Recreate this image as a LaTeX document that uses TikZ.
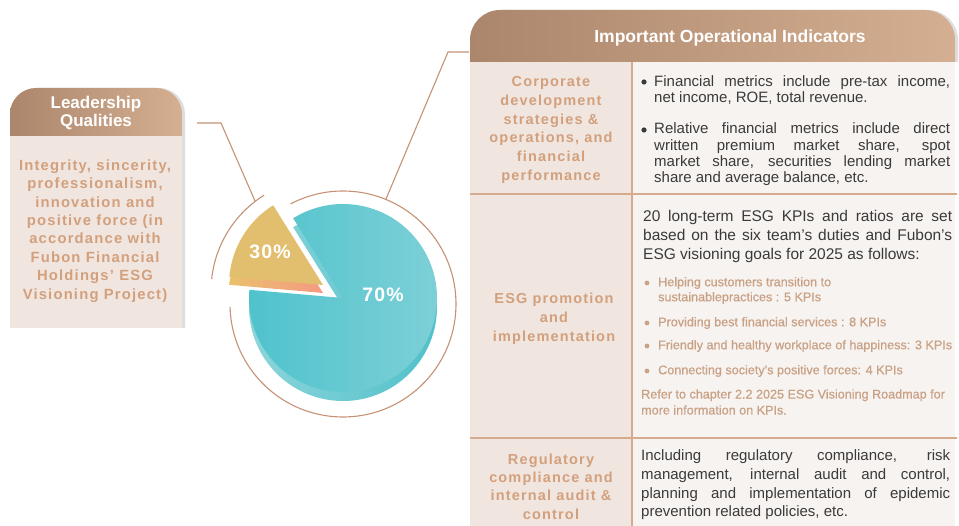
\documentclass[tikz,border=0pt]{standalone}
\usepackage{fontspec}
\setmainfont{Liberation Sans}
\newfontfamily\spacedfont[LetterSpace=8]{Liberation Sans}
\newfontfamily\pctfont[LetterSpace=6]{Liberation Sans}
\newfontfamily\medfont[FakeBold=0.6]{Liberation Sans}
\definecolor{hdrL}{HTML}{AC866C}
\definecolor{hdrR}{HTML}{D5AF91}
\definecolor{lbody}{HTML}{F0E6DF}
\definecolor{rbody}{HTML}{F7F3F0}
\definecolor{ruleC}{HTML}{D6AB8D}
\definecolor{connC}{HTML}{C49375}
\definecolor{headTxt}{HTML}{D3A07D}
\definecolor{darkTxt}{HTML}{3A3A3A}
\definecolor{brTxt}{HTML}{C9A185}
\definecolor{shadowC}{HTML}{DEDEDE}
\definecolor{tealL}{HTML}{4EC2CC}
\definecolor{tealR}{HTML}{7ED0D7}
\definecolor{sideL}{HTML}{8ED5DB}
\definecolor{sideR}{HTML}{4FC0CA}
\definecolor{yel}{HTML}{E2BF6F}
\definecolor{orL}{HTML}{EAC16C}
\definecolor{orR}{HTML}{F49A82}
\tikzset{
  conn/.style={draw=connC, line width=1.1pt},
  rulel/.style={draw=ruleC, line width=1.6pt},
  hdrtxt/.style={text=white, font=\bfseries\fontsize{17}{18}\selectfont, align=center, inner sep=0pt},
  bighdr/.style={text=white, font=\bfseries\fontsize{17.5}{19}\selectfont, inner sep=0pt},
  lefttxt/.style={text=headTxt, font=\spacedfont\bfseries\fontsize{14.5}{18.8}\selectfont, align=center, inner sep=0pt},
  bodytxt/.style={text=darkTxt, align=left, inner sep=0pt, anchor=west},
  kpitxt/.style={text=brTxt, align=left, inner sep=0pt, anchor=west, font=\medfont\fontsize{12.6}{15}\selectfont},
  dotd/.style={fill=darkTxt},
  dotb/.style={fill=brTxt},
  pct/.style={text=white, font=\pctfont\bfseries\fontsize{19.5}{20}\selectfont, inner sep=0pt}
}
\begin{document}
\begin{tikzpicture}[x=1pt,y=1pt]
\useasboundingbox (0,0) rectangle (959,-526);

% ---------- Leadership Qualities box ----------
\fill[shadowC] (13,-328) -- (13,-114) arc (180:90:26) -- (159,-88) arc (90:0:26) -- (185,-328) -- cycle;
\fill[lbody] (10,-136) rectangle (182,-328);
\shade[left color=hdrL, right color=hdrR] (10,-136) -- (10,-114) arc (180:90:26) -- (156,-88) arc (90:0:26) -- (182,-136) -- cycle;
\node[hdrtxt] (lqh) at (96,-113) {Leadership\\Qualities};
\node[lefttxt, font=\spacedfont\bfseries\fontsize{14.8}{18.4}\selectfont] (lqb) at (95,-231)
 {Integrity, sincerity,\\professionalism,\\innovation and\\positive force (in\\accordance with\\Fubon Financial\\Holdings’ ESG\\Visioning Project)};

% ---------- Table ----------
\fill[shadowC] (473,-62) -- (473,-40) arc (180:90:30) -- (928,-10) arc (90:0:30) -- (958,-62) -- cycle;
\fill[lbody] (470,-62) rectangle (632,-526);
\fill[rbody] (632,-62) rectangle (955,-526);
\shade[left color=hdrL, right color=hdrR] (470,-62) -- (470,-40) arc (180:90:30) -- (925,-10) arc (90:0:30) -- (955,-62) -- cycle;
\node[bighdr] (ioi) at (730,-38) {Important Operational Indicators};
\draw[rulel] (470,-194) -- (957,-194);
\draw[rulel] (470,-438) -- (957,-438);
\draw[rulel] (632,-62) -- (632,-526);

% row 1
\node[lefttxt] (r1l) at (551,-130) {Corporate\\development\\strategies \&\\operations, and\\financial\\performance};
\fill[dotd] (644,-82) circle (2.6);
\fill[dotd] (644,-130) circle (2.6);
\node[bodytxt, font=\fontsize{15}{16.5}\selectfont] (r1a) at (654,-90)
 {\makebox[296pt][s]{Financial metrics include pre-tax income,}\\net income, ROE, total revenue.};
\node[bodytxt, font=\fontsize{15}{16.4}\selectfont] (r1b) at (654,-154.5)
 {\makebox[296pt][s]{Relative financial metrics include direct}\\\makebox[296pt][s]{written premium market share, spot}\\\makebox[296pt][s]{market share, securities lending market}\\share and average balance, etc.};

% row 2
\node[lefttxt] (r2l) at (554,-319) {ESG promotion\\and\\implementation};
\node[bodytxt, font=\fontsize{15.5}{19}\selectfont] (r2a) at (643,-236)
 {\makebox[309pt][s]{20 long-term ESG KPIs and ratios are set}\\\makebox[309pt][s]{based on the six team’s duties and Fubon’s}\\ESG visioning goals for 2025 as follows:};
\fill[dotb] (647,-283) circle (2.4);
\fill[dotb] (647,-323) circle (2.4);
\fill[dotb] (647,-346) circle (2.4);
\fill[dotb] (647,-371) circle (2.4);
\node[kpitxt] (k1) at (658,-290.5) {Helping customers transition to\\sustainablepractices : 5 KPIs};
\node[kpitxt] (k2) at (658,-323) {Providing best financial services : 8 KPIs};
\node[kpitxt] (k3) at (658,-346) {Friendly and healthy workplace of happiness: 3 KPIs};
\node[kpitxt] (k4) at (658,-371) {Connecting society’s positive forces: 4 KPIs};
\node[kpitxt, font=\medfont\fontsize{12.6}{16}\selectfont] (ref) at (641,-402) {Refer to chapter 2.2 2025 ESG Visioning Roadmap for\\more information on KPIs.};

% row 3
\node[lefttxt, font=\spacedfont\bfseries\fontsize{14.5}{18.3}\selectfont] (r3l) at (551,-486.5) {Regulatory\\compliance and\\internal audit \&\\control};
\node[bodytxt, font=\fontsize{15}{18.7}\selectfont] (r3a) at (641,-485)
 {\makebox[309pt][s]{Including regulatory compliance, risk}\\\makebox[309pt][s]{management, internal audit and control,}\\\makebox[309pt][s]{planning and implementation of epidemic}\\prevention related policies, etc.};

% ---------- Pie ----------
\shade[left color=sideL, right color=sideR] (343,-307) -- ++(175:94) arc (175:482:94) -- cycle;
\shade[left color=tealL, right color=tealR] (343,-298) -- ++(175:94) arc (175:482:94) -- cycle;
\shade[left color=orL, right color=orR] (323,-293) -- ++(122:94) arc (122:175:94) -- cycle;
\fill[yel] (323,-285) -- ++(122:94) arc (122:175:94) -- cycle;
\node[pct] (p30) at (270,-252) {30\%};
\node[pct] (p70) at (383,-295) {70\%};

% outline arcs
\draw[conn] (343,-304) ++(181.5:113) arc (181.5:477.7:113);
\draw[conn] (324,-291) ++(122:113) arc (122:174:113);

% connectors
\coordinate (lqc) at (197,-123);
\coordinate (lqk) at (221,-123);
\coordinate (arcL) at (255,-201);
\coordinate (ioc) at (469,-52);
\coordinate (iok) at (448,-52);
\coordinate (arcR) at (386,-199);
\draw[conn] (lqc) -- (lqk) -- (arcL);
\draw[conn] (ioc) -- (iok) -- (arcR);
\end{tikzpicture}
\end{document}
